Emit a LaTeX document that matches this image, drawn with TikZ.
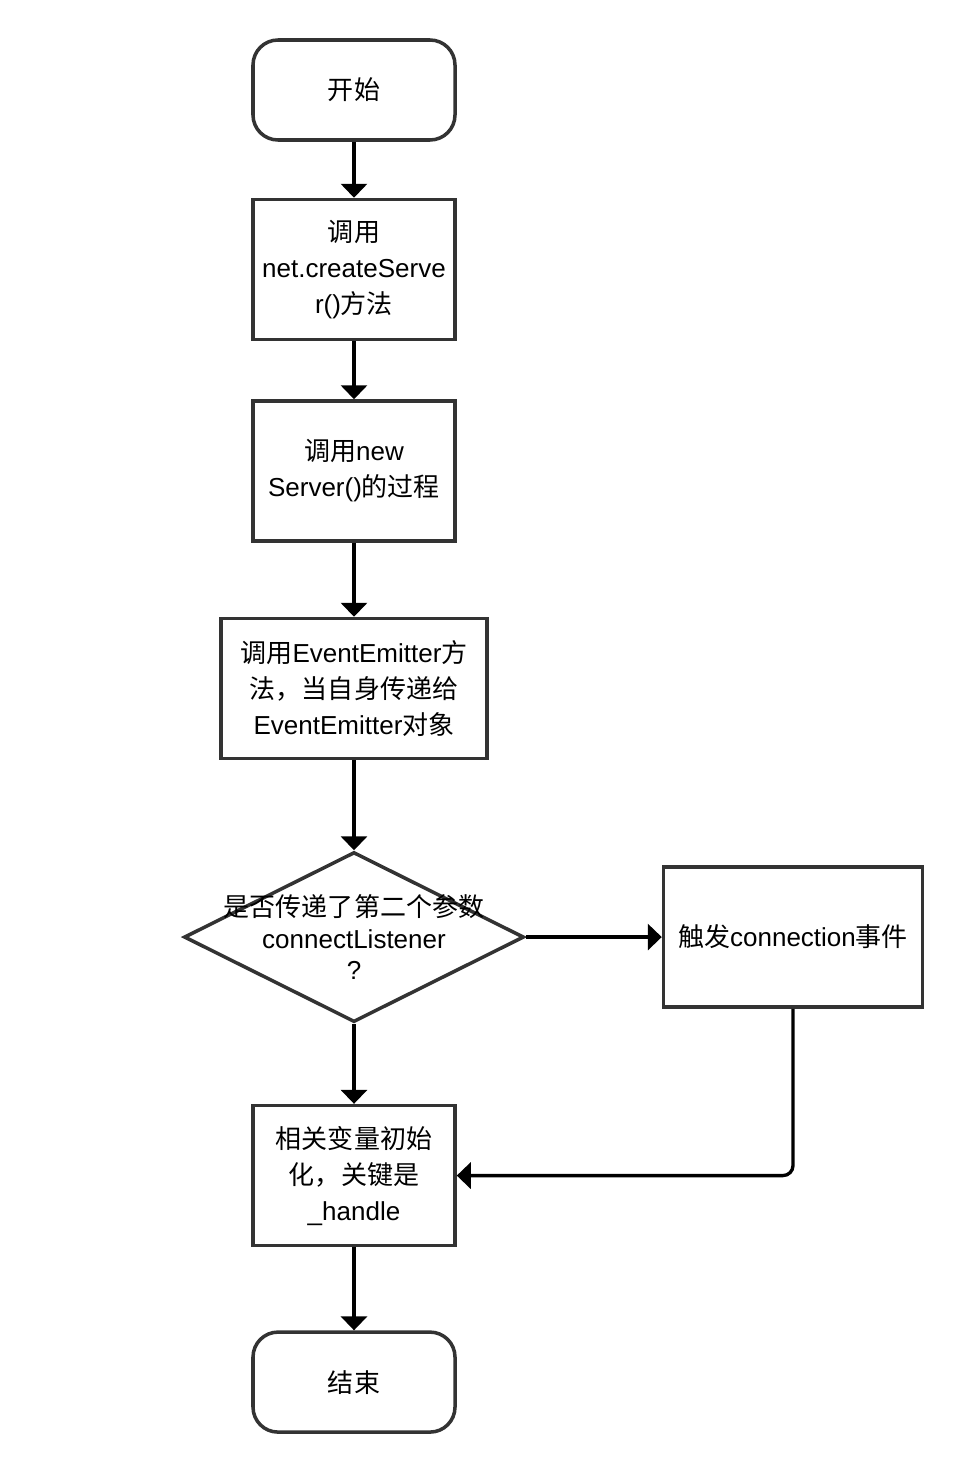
\documentclass[tikz,border=0pt]{standalone}
\usepackage{fontspec}
\setmainfont{Liberation Sans}
\newfontfamily\cjk{Noto Sans CJK SC}
\usepackage{tikz}
\usetikzlibrary{positioning,shapes.geometric,arrows.meta}
\usepackage{xcolor}
\definecolor{boxline}{RGB}{51,51,51}
\newcommand{\zh}[1]{{\cjk #1}}

\begin{document}
\begin{tikzpicture}[
    font=\fontsize{14.8}{20.5}\selectfont,
    terminal/.style={rectangle, draw=boxline, line width=2pt, rounded corners=0.5cm, minimum width=4.04cm, minimum height=2cm, align=center},
    process/.style={rectangle, draw=boxline, line width=2pt, minimum width=4.04cm, minimum height=2.8cm, align=center, inner sep=2pt},
    decision/.style={diamond, draw=boxline, line width=2pt, minimum width=6.8cm, minimum height=3.4cm, inner sep=0pt},
    flow/.style={line width=1.9pt, -{Triangle[width=0.52cm, length=0.28cm]}}
]
\useasboundingbox (0,0) rectangle (19.12,-29.28);

% Main column
\node[terminal] (start) at (7.08,-1.8) {\zh{开始}};
\node[process, below=1.12cm of start] (call) {\zh{调用}\\net.createServe\\r()\zh{方法}};
\node[process, below=1.16cm of call] (newsrv) {\zh{调用}new\\Server()\zh{的过程}};
\node[process, minimum width=5.32cm, below=1.48cm of newsrv] (emitter) {\zh{调用}EventEmitter\zh{方}\\\zh{法，当自身传递给}\\EventEmitter\zh{对象}};
\node[decision, below=1.8cm of emitter,
      label={[align=center, font=\fontsize{14.8}{17.8}\selectfont]center:{\zh{是否传递了第二个参数}\\connectListener\\?}}] (ask) {};
\node[process, below=1.6cm of ask] (init) {\zh{相关变量初始}\\\zh{化，关键是}\\\_handle};
\node[terminal, below=1.66cm of init] (finish) {\zh{结束}};

% Side branch
\node[process, minimum width=5.18cm, right=2.72cm of ask] (fire) {\zh{触发}connection\zh{事件}};

% Connectors
\draw[flow] (start) -- (call);
\draw[flow] (call) -- (newsrv);
\draw[flow] (newsrv) -- (emitter);
\draw[flow] (emitter) -- (ask);
\draw[flow] (ask) -- (init);
\draw[flow] (init) -- (finish);
\draw[flow] (ask) -- (fire);
\draw[flow, rounded corners=0.2cm] (fire.south) |- (init.east);

\end{tikzpicture}
\end{document}
